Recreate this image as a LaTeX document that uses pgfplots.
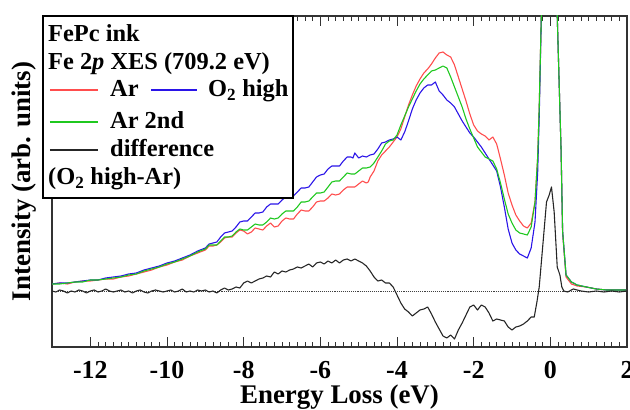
\documentclass[border=0pt]{standalone}
\usepackage{fontspec}
\setmainfont{Liberation Serif}
\usepackage{graphicx}
\usepackage{pgfplots}
\pgfplotsset{compat=1.18}
\usetikzlibrary{calc}
\definecolor{arred}{HTML}{FF4D4D}
\definecolor{oblue}{HTML}{2A14E8}
\definecolor{argreen}{HTML}{1FC81F}
\definecolor{diffblk}{HTML}{262626}
\definecolor{axgray}{HTML}{333333}

\begin{document}
\begin{tikzpicture}[font=\bfseries]
\begin{axis}[
  scale only axis, width=575bp, height=331bp,
  xmin=-13, xmax=2, ymin=0, ymax=331,
  xtick={-12,-10,-8,-6,-4,-2,0,2},
  xticklabels={-12,-10,-8,-6,-4,-2,0,2},
  minor x tick num=9,
  ytick=\empty,
  tick align=inside,
  major tick length=10bp, minor tick length=5bp,
  axis line style={line width=1.4pt, draw=axgray},
  tick style={line width=0.9pt, draw=axgray},
  tick label style={font=\fontsize{26}{28}\selectfont\bfseries},
  xticklabel style={yshift=-11bp},
  xlabel={Energy Loss (eV)},
  label style={font=\fontsize{27}{30}\selectfont\bfseries},
  xlabel style={at={(rel axis cs:0.5,0)}, anchor=base, yshift=-56bp},
  every axis plot/.append style={line width=1.1pt, line join=round},
  clip=true]
% Ar
\addplot[arred] coordinates {
(-13.0,63) (-12.8,64) (-12.6,63) (-12.4,65) (-12.2,66) (-12.0,66) (-11.8,67) (-11.6,68)
(-11.4,68) (-11.2,70) (-11.0,71) (-10.8,73) (-10.6,75) (-10.4,77) (-10.2,80) (-10.0,82)
(-9.8,85) (-9.6,87) (-9.4,91) (-9.2,94)
(-9.0,97) (-8.9,101) (-8.8,101) (-8.7,102) (-8.6,105) (-8.5,109) (-8.4,110) (-8.3,110)
(-8.2,114) (-8.1,117) (-8.0,116) (-7.9,113) (-7.8,115) (-7.7,119) (-7.6,118) (-7.5,117)
(-7.4,121) (-7.3,124) (-7.2,120) (-7.1,121) (-7.0,126) (-6.9,129) (-6.8,128) (-6.7,128)
(-6.6,133) (-6.5,137) (-6.4,136) (-6.3,136) (-6.2,140) (-6.1,145) (-6.0,146) (-5.9,146)
(-5.8,149) (-5.7,153) (-5.6,152) (-5.5,153) (-5.4,157) (-5.3,160) (-5.2,160) (-5.1,160)
(-5.0,163) (-4.9,166) (-4.8,164) (-4.75,165)
(-4.7,170) (-4.6,176) (-4.5,186) (-4.4,192) (-4.3,196) (-4.2,200)
(-4.1,205) (-4.0,210) (-3.9,218) (-3.8,230) (-3.7,242) (-3.6,252) (-3.5,261) (-3.4,268)
(-3.3,274) (-3.2,278) (-3.1,283) (-3.0,289) (-2.9,294) (-2.8,295) (-2.7,292) (-2.6,290)
(-2.5,282) (-2.4,270) (-2.3,258) (-2.2,246) (-2.1,233) (-2.0,222) (-1.9,216) (-1.8,213)
(-1.7,211) (-1.6,207) (-1.5,210) (-1.4,203) (-1.3,188) (-1.2,172) (-1.1,154) (-1.0,142)
(-0.9,132) (-0.8,126) (-0.7,121) (-0.6,119) (-0.5,124) (-0.4,145) (-0.33,190) (-0.29,240)
(-0.23,340) (-0.13,430) (-0.03,470) (0.08,430) (0.18,331) (0.28,197) (0.32,114) (0.41,70)
(0.55,63) (0.7,61) (0.94,60) (1.2,58) (1.46,57) (1.7,57) (1.98,57)};
% O2 high
\addplot[oblue] coordinates {
(-13.0,63) (-12.8,64) (-12.6,64) (-12.4,65) (-12.2,66) (-12.0,67) (-11.8,67) (-11.6,69)
(-11.4,70) (-11.2,71) (-11.0,73) (-10.8,74) (-10.6,77) (-10.4,79) (-10.2,81) (-10.0,84)
(-9.8,86) (-9.6,89) (-9.4,92) (-9.2,96)
(-9.0,99) (-8.9,103) (-8.8,104) (-8.7,105) (-8.6,110) (-8.5,114) (-8.4,115) (-8.3,116)
(-8.2,120) (-8.1,125) (-8.0,126) (-7.9,126) (-7.8,130) (-7.7,134) (-7.6,134) (-7.5,135)
(-7.4,140) (-7.3,143) (-7.2,143) (-7.1,143) (-7.0,147) (-6.9,150) (-6.8,150) (-6.7,151)
(-6.6,155) (-6.5,159) (-6.4,159) (-6.3,160) (-6.2,165) (-6.1,170) (-6.0,172) (-5.9,173)
(-5.8,178) (-5.7,181) (-5.6,181) (-5.5,181) (-5.4,186) (-5.3,190) (-5.2,190) (-5.15,189)
(-5.1,194) (-5.0,189) (-4.9,191) (-4.8,190) (-4.7,192) (-4.6,193) (-4.5,198) (-4.4,204)
(-4.3,205) (-4.2,207) (-4.1,208) (-4.0,210) (-3.9,207) (-3.8,215) (-3.7,226) (-3.6,238)
(-3.5,247) (-3.4,254) (-3.3,259) (-3.2,262) (-3.1,262) (-3.0,265) (-2.9,256) (-2.8,252)
(-2.7,247) (-2.6,244) (-2.5,240) (-2.4,233) (-2.3,226) (-2.2,220) (-2.1,214) (-2.0,210)
(-1.9,205) (-1.8,200) (-1.7,194) (-1.6,188) (-1.5,182) (-1.4,176) (-1.3,160) (-1.2,140)
(-1.1,118) (-1.0,104) (-0.9,97) (-0.8,93) (-0.7,91) (-0.6,89) (-0.5,99) (-0.4,125)
(-0.33,175) (-0.29,230) (-0.23,340) (-0.13,430) (-0.03,470) (0.08,430) (0.18,331) (0.28,197)
(0.32,116) (0.41,72) (0.55,65) (0.7,62) (0.94,60) (1.2,58) (1.46,57) (1.7,57) (1.98,57)};
% Ar 2nd
\addplot[argreen] coordinates {
(-13.0,63) (-12.8,63) (-12.6,64) (-12.4,65) (-12.2,65) (-12.0,67) (-11.8,67) (-11.6,68)
(-11.4,69) (-11.2,70) (-11.0,72) (-10.8,73) (-10.6,76) (-10.4,78) (-10.2,80) (-10.0,83)
(-9.8,85) (-9.6,88) (-9.4,91) (-9.2,95)
(-9.0,98) (-8.9,102) (-8.8,102) (-8.7,102) (-8.6,106) (-8.5,110) (-8.4,110) (-8.3,111)
(-8.2,115) (-8.1,118) (-8.0,117) (-7.9,117) (-7.8,120) (-7.7,123) (-7.6,122) (-7.5,122)
(-7.4,125) (-7.3,129) (-7.2,128) (-7.1,129) (-7.0,133) (-6.9,136) (-6.8,136) (-6.7,136)
(-6.6,140) (-6.5,145) (-6.4,145) (-6.3,146) (-6.2,150) (-6.1,154) (-6.0,154) (-5.9,155)
(-5.8,160) (-5.7,165) (-5.6,166) (-5.5,166) (-5.4,170) (-5.3,174) (-5.2,173) (-5.1,173)
(-5.0,176) (-4.9,179) (-4.8,179) (-4.7,180)
(-4.6,184) (-4.5,190) (-4.4,196) (-4.3,203) (-4.2,206) (-4.1,207)
(-4.0,212) (-3.9,222) (-3.8,231) (-3.7,240) (-3.6,248) (-3.5,256) (-3.4,263) (-3.3,268)
(-3.2,272) (-3.1,276) (-3.0,277) (-2.9,279) (-2.8,281) (-2.7,279) (-2.6,270) (-2.5,260)
(-2.4,250) (-2.3,240) (-2.2,228) (-2.1,218) (-2.0,209) (-1.9,200) (-1.8,195) (-1.7,190)
(-1.6,188) (-1.5,186) (-1.4,178) (-1.3,164) (-1.2,148) (-1.1,133) (-1.0,124) (-0.9,117)
(-0.8,114) (-0.7,113) (-0.6,112) (-0.5,120) (-0.4,145) (-0.33,190) (-0.29,240) (-0.23,340)
(-0.13,430) (-0.03,470) (0.08,430) (0.18,331) (0.28,197) (0.32,116) (0.41,72) (0.55,65)
(0.7,62) (0.94,60) (1.2,58) (1.46,57) (1.7,57) (1.98,57)};
% zero line
\addplot[densely dotted, black!75, line width=0.8pt] coordinates {(-13,56) (2,56)};
% difference
\addplot[diffblk] coordinates {
(-13.0,56) (-12.9,55) (-12.8,57) (-12.7,56) (-12.6,54) (-12.5,56) (-12.4,55) (-12.3,57)
(-12.2,56) (-12.1,54) (-12.0,56) (-11.9,57) (-11.8,55) (-11.7,56) (-11.6,58) (-11.5,56)
(-11.4,55) (-11.3,56) (-11.2,57) (-11.1,55) (-11.0,56) (-10.9,54) (-10.8,56) (-10.7,57)
(-10.6,55) (-10.5,54) (-10.4,56) (-10.3,57) (-10.2,56) (-10.1,55) (-10.0,56) (-9.9,57)
(-9.8,55) (-9.7,56) (-9.6,58) (-9.5,55) (-9.4,56) (-9.3,55) (-9.2,57) (-9.1,56)
(-9.0,57) (-8.9,55) (-8.8,56) (-8.7,54) (-8.6,57) (-8.5,59) (-8.4,57) (-8.3,58)
(-8.2,60) (-8.1,59) (-8.0,64) (-7.9,66) (-7.8,64) (-7.7,66) (-7.6,68) (-7.5,69)
(-7.4,71) (-7.3,70) (-7.2,75) (-7.1,73) (-7.0,76) (-6.9,75) (-6.8,77) (-6.7,78)
(-6.6,80) (-6.5,79) (-6.4,81) (-6.3,83) (-6.2,80) (-6.1,84) (-6.0,85) (-5.9,83)
(-5.8,86) (-5.7,84) (-5.6,87) (-5.5,84) (-5.4,87) (-5.3,88) (-5.2,86) (-5.1,88)
(-5.0,86) (-4.9,84) (-4.8,81) (-4.7,76) (-4.6,70) (-4.5,66) (-4.4,67) (-4.3,64)
(-4.2,64) (-4.1,60) (-4.0,52) (-3.9,44) (-3.8,38) (-3.7,35) (-3.6,31) (-3.5,34)
(-3.4,37) (-3.3,38) (-3.2,40) (-3.1,33) (-3.0,25) (-2.9,18) (-2.8,11) (-2.7,9)
(-2.6,12) (-2.5,8) (-2.4,17) (-2.3,24) (-2.2,32) (-2.1,40) (-2.0,42) (-1.9,37)
(-1.8,42) (-1.7,40) (-1.6,34) (-1.5,26) (-1.4,28) (-1.3,27) (-1.2,26) (-1.1,20)
(-1.0,17) (-0.9,20) (-0.8,21) (-0.7,23) (-0.6,26) (-0.5,30) (-0.42,30) (-0.35,45)
(-0.29,60) (-0.2,100) (-0.1,145) (-0.03,152) (0.03,160) (0.1,135) (0.18,80) (0.25,72)
(0.3,60) (0.35,56) (0.45,55) (0.6,58) (0.8,56) (1.0,55) (1.2,56) (1.4,55)
(1.6,56) (1.8,55) (2.0,56)};
\coordinate (nw) at (rel axis cs:0,1);
\coordinate (sw) at (rel axis cs:0,0);
\end{axis}
% y label
\node[anchor=center, inner sep=0pt, font=\fontsize{27}{30}\selectfont\bfseries]
  at ($(sw)+(-28bp,165.5bp)$) {\rotatebox{90}{Intensity (arb. units)}};
% legend box
\draw[line width=1.2pt, draw=black, fill=white] ($(nw)+(-9bp,0)$) rectangle ($(nw)+(241bp,-182bp)$);
\draw[arred, line width=1.1pt] ($(nw)+(-2bp,-74bp)$) -- ++(48bp,0);
\draw[oblue, line width=1.1pt] ($(nw)+(99bp,-74bp)$) -- ++(46bp,0);
\draw[argreen, line width=1.1pt] ($(nw)+(-2bp,-106bp)$) -- ++(48bp,0);
\draw[diffblk, line width=1.1pt] ($(nw)+(-2bp,-134bp)$) -- ++(48bp,0);
\begin{scope}[every node/.style={anchor=base west, inner sep=0pt, font=\fontsize{24.5}{28}\selectfont\bfseries}]
\node at ($(nw)+(-4bp,-26bp)$) {FePc ink};
\node at ($(nw)+(-4bp,-54bp)$) {Fe 2\textit{p} XES (709.2 eV)};
\node at ($(nw)+(58bp,-81bp)$) {Ar};
\node at ($(nw)+(156bp,-81bp)$) {O\textsubscript{2} high};
\node at ($(nw)+(58bp,-113bp)$) {Ar 2nd};
\node at ($(nw)+(58bp,-141bp)$) {difference};
\node at ($(nw)+(-4bp,-169bp)$) {(O\textsubscript{2} high-Ar)};
\end{scope}
\pgfresetboundingbox
\path ($(sw)+(-52bp,-63bp)$) rectangle ++(630bp,410bp);
\end{tikzpicture}
\end{document}
